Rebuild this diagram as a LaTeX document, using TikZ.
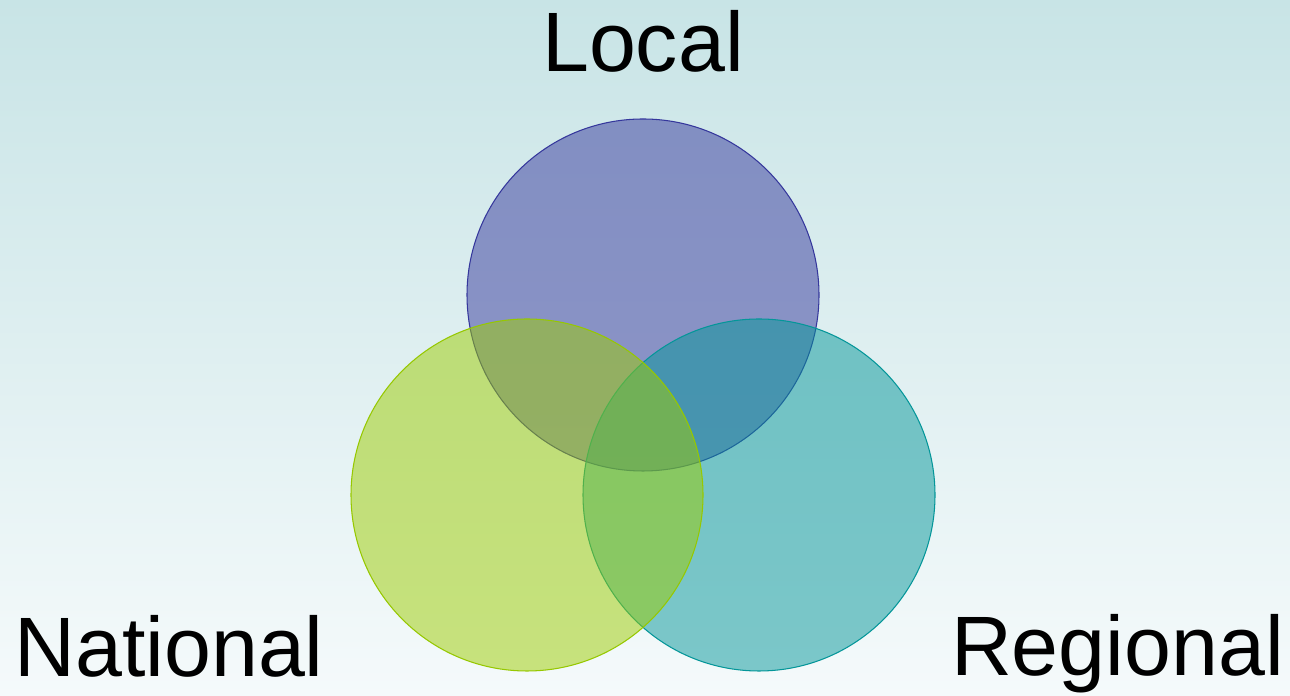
\documentclass[tikz,border=0pt]{standalone}
\usepackage{fontspec}
\setmainfont{Liberation Sans}
\usepackage{tikz}
\usepackage{tikz-network}

\definecolor{bgtop}{RGB}{200,228,230}
\definecolor{bgbottom}{RGB}{245,250,251}
\definecolor{localline}{RGB}{53,55,156}
\definecolor{regionalline}{RGB}{4,150,153}
\definecolor{nationalline}{RGB}{150,200,0}

\begin{document}
\begin{tikzpicture}
      \shade[top color=bgtop,bottom color=bgbottom] (0,0) rectangle (25.8,13.92);
      \useasboundingbox (0,0) rectangle (25.8,13.92);

      \Vertex[x=12.86,y=8.02,size=7.04,RGB,color={53,55,156},opacity=.5,style={draw=localline,line width=.6pt}]{local}
      \Vertex[x=15.18,y=4.02,size=7.04,RGB,color={4,150,153},opacity=.5,style={draw=regionalline,line width=.6pt}]{regional}
      \Vertex[x=10.54,y=4.02,size=7.04,RGB,color={156,204,0},opacity=.5,style={draw=nationalline,line width=.6pt}]{national}

      \node[font=\fontsize{48}{58}\selectfont,anchor=base] (tlocal) at (12.86,12.48) {Local};
      \node[font=\fontsize{48}{58}\selectfont,anchor=base] (tnational) at (3.38,0.38) {National};
      \node[font=\fontsize{48}{58}\selectfont,anchor=base] (tregional) at (22.35,0.4) {Regional};
   \end{tikzpicture}
\end{document}
